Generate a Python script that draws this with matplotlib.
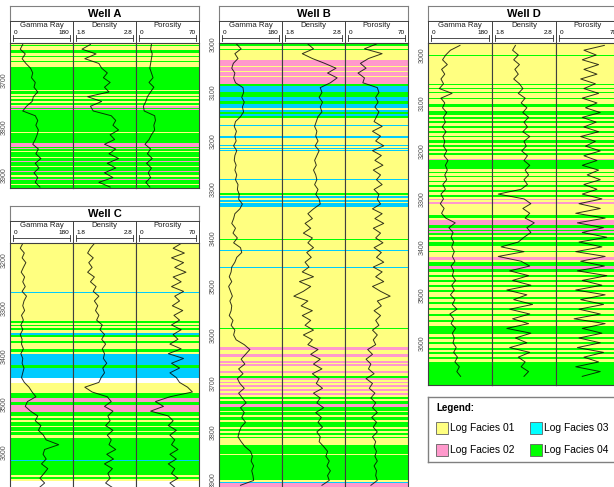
import numpy as np
import matplotlib.pyplot as plt
from matplotlib.patches import Rectangle

plt.rcParams['font.family'] = ['Liberation Sans', 'DejaVu Sans']

W, H = 614, 487

facies_colors = {1: '#FFFF80', 2: '#FF99CC', 3: '#00CCFF', 4: '#00FF00'}
legend_colors = ['#FFFF80', '#FF99CC', '#00FFFF', '#00FF00']
legend_names = ['Log Facies 01', 'Log Facies 02', 'Log Facies 03', 'Log Facies 04']

track_names = ['Gamma Ray', 'Density', 'Porosity']
track_min = [0, 1.8, 0]
track_max = [180, 2.8, 70]
track_min_labels = ['0', '1.8', '0']
track_max_labels = ['180', '2.8', '70']

# log samples every 10 m, starting depth given separately
a_start = 3625
a_gr = [30, 22, 38, 28, 40, 55, 62, 58, 70, 66, 78, 64, 60, 42, 30, 70, 78, 72, 80, 76,
        70, 62, 80, 72, 88, 70, 82, 66, 78, 70, 85]
a_den = [2.05, 1.9, 2.15, 1.95, 2.2, 2.25, 2.35, 2.28, 2.4, 2.3, 2.38, 2.0, 2.25, 2.05, 2.1,
         2.42, 2.5, 2.45, 2.55, 2.4, 2.48, 2.3, 2.5, 2.38, 2.55, 2.35, 2.5, 2.3, 2.45, 2.2, 2.4]
a_por = [15, 14, 16, 15, 14, 13, 15, 17, 12, 18, 14, 10, 8, 5, 6, 19, 20, 18, 19, 15,
         12, 7, 14, 10, 16, 9, 15, 11, 14, 8, 13]
a_facies = [(3622, 1), (3626, 4), (3629, 1), (3636, 4), (3642, 1), (3650, 4), (3652, 1), (3660, 4),
            (3662, 1), (3672, 4), (3720, 1), (3722, 4), (3729, 1), (3733, 4), (3736, 1), (3740, 4),
            (3743, 1), (3748, 4), (3752, 1), (3755, 2), (3758, 4), (3760, 2), (3763, 4), (3809, 1),
            (3812, 4), (3832, 2), (3840, 4), (3843, 2), (3846, 4), (3850, 1), (3852, 4), (3862, 1),
            (3864, 4), (3870, 2), (3873, 4), (3880, 1), (3882, 4), (3892, 2), (3894, 4), (3900, 1),
            (3903, 4), (3908, 2), (3911, 4), (3918, 1), (3921, 4)]

b_start = 3000
b_gr = [45, 60, 40, 50, 35, 30, 40, 36, 42, 66,
        68, 62, 70, 64, 68, 58, 42, 38, 45, 40,
        44, 36, 46, 40, 38, 44, 40, 46, 42, 50,
        48, 54, 52, 64, 56, 40, 36, 30, 42, 34,
        48, 36, 58, 62, 46, 40, 30, 28, 22, 30,
        20, 26, 32, 24, 30, 28, 22, 34, 28, 40,
        36, 44, 70, 88, 74, 60, 72, 52, 66, 48,
        56, 70, 52, 64, 76, 58, 70, 62, 74, 60,
        54, 50, 60, 72, 90, 96, 92, 100, 94, 98,
        100, 58]
b_den = [2.2, 2.3, 2.1, 2.28, 2.5, 2.7, 2.55, 2.72, 2.6, 2.42,
         2.45, 2.4, 2.46, 2.42, 2.45, 2.38, 2.35, 2.32, 2.36, 2.34,
         2.38, 2.33, 2.4, 2.36, 2.32, 2.35, 2.3, 2.34, 2.36, 2.32,
         2.38, 2.34, 2.4, 2.42, 2.3, 2.2, 2.28, 2.15, 2.25, 2.12,
         2.28, 2.2, 2.3, 2.18, 2.26, 2.15, 2.22, 2.1, 2.3, 2.05,
         2.25, 2.12, 1.95, 2.2, 2.08, 2.28, 2.1, 2.25, 2.15, 2.3,
         2.12, 2.28, 2.2, 2.38, 2.25, 2.42, 2.3, 2.45, 2.28, 2.4,
         2.35, 2.46, 2.3, 2.42, 2.36, 2.48, 2.34, 2.44, 2.38, 2.46,
         2.36, 2.42, 2.4, 2.48, 2.55, 2.52, 2.58, 2.54, 2.6, 2.55,
         2.58, 2.45]
b_por = [35, 20, 42, 25, 15, 22, 12, 20, 18, 36,
         38, 34, 37, 33, 38, 35, 32, 42, 30, 40,
         34, 44, 30, 41, 33, 43, 31, 40, 35, 42,
         32, 38, 36, 40, 30, 42, 33, 44, 31, 40,
         34, 43, 32, 41, 35, 44, 31, 42, 34, 44,
         30, 40, 52, 36, 41, 32, 40, 34, 38, 30,
         36, 31, 34, 24, 30, 22, 28, 25, 32, 22,
         30, 26, 33, 28, 34, 30, 36, 29, 35, 31,
         36, 30, 34, 32, 35, 33, 36, 32, 35, 34,
         36, 28]
b_facies = [(2998, 4), (3005, 1), (3010, 4), (3013, 1), (3033, 2), (3045, 1), (3047, 2), (3056, 1),
            (3058, 2), (3066, 1), (3068, 2), (3082, 4), (3087, 3), (3099, 4), (3110, 3), (3117, 4),
            (3124, 3), (3131, 1), (3136, 3), (3140, 4), (3144, 3), (3148, 4), (3152, 1), (3168, 3),
            (3170, 1), (3189, 3), (3193, 1), (3209, 3), (3211, 1), (3214, 3), (3216, 1), (3219, 3),
            (3221, 1), (3279, 3), (3281, 1), (3307, 4), (3311, 1), (3314, 3), (3317, 1), (3322, 3),
            (3325, 1), (3328, 3), (3336, 1), (3402, 4), (3405, 1), (3425, 3), (3427, 1), (3459, 3),
            (3461, 1), (3585, 4), (3587, 1), (3624, 2), (3631, 1), (3640, 2), (3645, 1), (3654, 2),
            (3657, 1), (3660, 2), (3664, 1), (3675, 2), (3679, 1), (3685, 4), (3689, 2), (3693, 1),
            (3697, 2), (3700, 1), (3704, 2), (3707, 1), (3712, 2), (3715, 1), (3720, 2), (3724, 1),
            (3728, 4), (3733, 1), (3737, 4), (3742, 2), (3749, 4), (3756, 1), (3759, 4), (3766, 1),
            (3769, 4), (3776, 1), (3779, 4), (3790, 1), (3794, 4), (3798, 1), (3802, 4), (3806, 1),
            (3810, 4), (3813, 1), (3826, 4), (3846, 1), (3848, 4), (3900, 1), (3903, 3), (3906, 2)]

c_start = 3165
c_gr = [30, 22, 35, 28, 40, 32, 25, 36, 30, 38,
        28, 42, 34, 30, 36, 26, 32, 24, 30, 22,
        28, 26, 32, 24, 30, 28, 34, 30, 26, 35,
        50, 60, 72, 45, 38, 55, 78, 70, 88, 80,
        96, 105, 145, 100, 95, 105, 90, 110, 98, 85,
        100, 82, 90]
c_den = [2.12, 2.05, 2.0, 2.1, 2.02, 2.08, 2.0, 2.12, 2.05, 2.15,
         2.1, 2.2, 2.12, 2.18, 2.14, 2.2, 2.16, 2.26, 2.22, 2.3,
         2.25, 2.32, 2.26, 2.3, 2.28, 2.34, 2.27, 2.3, 2.24, 2.2,
         1.95, 2.08, 2.35, 2.42, 2.3, 2.45, 2.36, 2.4, 2.32, 2.45,
         2.35, 2.42, 2.38, 2.5, 2.34, 2.46, 2.3, 2.44, 2.36, 2.4,
         2.32, 2.45, 2.38]
c_por = [52, 42, 56, 40, 55, 44, 58, 42, 52, 40,
         55, 44, 50, 41, 54, 43, 50, 40, 52, 42,
         48, 38, 52, 36, 55, 40, 50, 38, 46, 50,
         60, 66, 38, 20, 30, 14, 36, 42, 36, 46,
         38, 44, 40, 48, 38, 46, 36, 44, 40, 48,
         38, 45, 42]
c_facies = [(3164, 1), (3266, 3), (3268, 1), (3326, 4), (3332, 1), (3335, 4), (3338, 1), (3341, 4),
            (3345, 1), (3351, 3), (3356, 4), (3361, 1), (3368, 4), (3372, 1), (3386, 4), (3391, 1),
            (3396, 3), (3418, 4), (3425, 3), (3446, 0), (3456, 1), (3477, 4), (3488, 2), (3495, 4),
            (3502, 2), (3516, 4), (3526, 1), (3529, 4), (3533, 1), (3537, 4), (3545, 1), (3548, 4),
            (3556, 1), (3559, 4), (3565, 1), (3572, 4), (3617, 3), (3619, 4), (3649, 1), (3653, 4),
            (3656, 1), (3660, 0)]

d_start = 2980
d_gr = [90, 60, 45, 35, 50, 32, 42, 30, 38, 25,
        65, 30, 42, 35, 48, 38, 44, 34, 46, 36,
        42, 38, 48, 40, 52, 44, 50, 42, 48, 36,
        44, 30, 38, 28, 40, 32, 45, 75, 55, 68,
        62, 70, 64, 72, 66, 74, 62, 70, 66, 76,
        64, 72, 60, 74, 66, 80, 58, 70, 62, 76,
        66, 72, 68, 78, 70, 82, 74, 88, 80, 92]
d_den = [2.15, 2.1, 2.2, 2.12, 2.22, 2.14, 2.2, 2.12, 2.22, 2.28,
         2.2, 2.32, 2.25, 2.35, 2.28, 2.38, 2.3, 2.36, 2.28, 2.4,
         2.3, 2.34, 2.26, 2.36, 2.3, 2.4, 2.32, 2.38, 2.3, 2.36,
         2.25, 1.85, 2.3, 2.42, 2.28, 2.4, 2.32, 2.48, 2.35, 2.42,
         2.3, 2.2, 1.9, 2.3, 1.85, 2.25, 2.4, 2.05, 2.38, 2.1,
         2.42, 2.0, 2.35, 2.12, 2.45, 2.05, 2.4, 2.1, 2.38, 2.0,
         2.42, 2.15, 2.35, 2.05, 2.4, 2.2, 2.32, 2.25, 2.38, 2.3]
d_por = [55, 30, 45, 28, 48, 30, 46, 26, 44, 30,
         48, 28, 46, 32, 50, 28, 45, 30, 48, 26,
         44, 32, 50, 30, 46, 28, 48, 34, 50, 30,
         46, 28, 52, 24, 50, 20, 56, 22, 54, 28,
         58, 24, 52, 20, 56, 26, 55, 22, 58, 28,
         52, 20, 56, 26, 54, 24, 50, 18, 56, 28,
         52, 24, 50, 22, 54, 30, 48, 20, 50, 28]
d_facies = [(2975, 1), (3001, 4), (3003, 1), (3061, 4), (3063, 1), (3068, 4), (3070, 1), (3078, 4),
            (3080, 1), (3090, 4), (3092, 1), (3102, 4), (3109, 1), (3116, 4), (3126, 1), (3130, 4),
            (3134, 1), (3138, 4), (3142, 1), (3148, 4), (3152, 1), (3158, 4), (3162, 1), (3168, 4),
            (3172, 1), (3178, 4), (3184, 1), (3188, 4), (3192, 1), (3196, 4), (3200, 1), (3204, 4),
            (3208, 1), (3216, 2), (3219, 4), (3238, 1), (3243, 4), (3246, 1), (3252, 4), (3255, 1),
            (3262, 4), (3265, 1), (3272, 4), (3275, 1), (3282, 4), (3285, 1), (3292, 4), (3296, 1),
            (3300, 2), (3303, 1), (3307, 2), (3310, 1), (3334, 4), (3340, 1), (3344, 2), (3354, 4),
            (3361, 2), (3364, 4), (3367, 2), (3371, 4), (3376, 1), (3380, 4), (3386, 1), (3390, 4),
            (3398, 1), (3408, 4), (3411, 1), (3422, 2), (3427, 1), (3432, 4), (3439, 2), (3446, 4),
            (3452, 1), (3458, 4), (3462, 1), (3470, 4), (3474, 1), (3480, 4), (3484, 1), (3490, 4),
            (3494, 1), (3504, 4), (3508, 1), (3516, 4), (3520, 1), (3528, 4), (3532, 1), (3540, 4),
            (3544, 1), (3552, 4), (3556, 1), (3565, 4), (3582, 1), (3588, 4), (3592, 1), (3598, 4),
            (3602, 1), (3610, 4), (3614, 1), (3620, 4), (3624, 1), (3630, 4), (3634, 1), (3640, 4)]


fig = plt.figure(figsize=(W / 100, H / 100), dpi=100)


def px(x0, y0, x1, y1):
    return [x0 / W, 1 - y1 / H, (x1 - x0) / W, (y1 - y0) / H]


def draw_well(name, x0, x1, y_title, y_data, y_bot, d_top, d_bot, start, curves, facies, ticks):
    border = '#808080'
    tax = fig.add_axes(px(x0, y_title, x1, y_title + 15))
    tax.set_xticks([])
    tax.set_yticks([])
    for s in tax.spines.values():
        s.set_color(border)
        s.set_linewidth(0.8)
    tax.text(0.5, 0.45, name, ha='center', va='center', fontsize=8, fontweight='bold')

    tw = (x1 - x0) / 3
    for k in range(3):
        lo, hi = track_min[k], track_max[k]
        pad = 0.06 * (hi - lo)
        xa = x0 + k * tw

        # header with name and scale
        hax = fig.add_axes(px(xa, y_title + 15, xa + tw, y_data))
        hax.set_xlim(lo - pad, hi + pad)
        hax.set_ylim(1, 0)
        hax.set_xticks([])
        hax.set_yticks([])
        for s in hax.spines.values():
            s.set_color('#404040')
            s.set_linewidth(0.7)
        hax.text((lo + hi) / 2, 0.2, track_names[k], ha='center', va='center', fontsize=5.6,
                 color='#202020')
        hax.text(lo, 0.5, track_min_labels[k], ha='left', va='center', fontsize=4.6)
        hax.text(hi, 0.5, track_max_labels[k], ha='right', va='center', fontsize=4.6)
        hax.plot([lo, hi], [0.76, 0.76], color='#303030', lw=0.6)
        hax.plot([lo, lo], [0.62, 0.9], color='#303030', lw=0.6)
        hax.plot([hi, hi], [0.62, 0.9], color='#303030', lw=0.6)

        # data track
        ax = fig.add_axes(px(xa, y_data, xa + tw, y_bot))
        ax.set_xlim(lo - pad, hi + pad)
        ax.set_ylim(d_bot, d_top)
        for i, (top, code) in enumerate(facies):
            base = facies[i + 1][0] if i + 1 < len(facies) else d_bot
            if code:
                ax.axhspan(top, base, color=facies_colors[code], lw=0)
        vals = curves[k]
        depth = start + 10 * np.arange(len(vals))
        ax.plot(vals, depth, color='black', lw=0.7, alpha=0.8)
        ax.set_xticks([])
        for s in ax.spines.values():
            s.set_color('#404040')
            s.set_linewidth(0.8)
        if k == 0:
            ax.set_yticks(ticks)
            ax.set_yticklabels([str(t) for t in ticks], rotation=90, va='center',
                               fontsize=5, color='#505050')
            ax.tick_params(axis='y', length=0, pad=1.5)
        else:
            ax.set_yticks([])


draw_well('Well A', 10, 199, 6, 43, 188, 3622, 3927, a_start, [a_gr, a_den, a_por], a_facies,
          [3700, 3800, 3900])
draw_well('Well C', 10, 199, 206, 243, 495, 3164, 3690, c_start, [c_gr, c_den, c_por], c_facies,
          [3200, 3300, 3400, 3500, 3600])
draw_well('Well B', 219, 408, 6, 43, 495, 2998, 3930, b_start, [b_gr, b_den, b_por], b_facies,
          [3000, 3100, 3200, 3300, 3400, 3500, 3600, 3700, 3800, 3900])
draw_well('Well D', 428, 620, 6, 43, 385, 2975, 3688, d_start, [d_gr, d_den, d_por], d_facies,
          [3000, 3100, 3200, 3300, 3400, 3500, 3600])

# legend box
lax = fig.add_axes(px(428, 397, 620, 462))
lax.set_xlim(428, 620)
lax.set_ylim(462, 397)
lax.set_xticks([])
lax.set_yticks([])
for s in lax.spines.values():
    s.set_color('#808080')
    s.set_linewidth(1.0)
lax.text(436, 408, 'Legend:', fontsize=7, fontweight='bold', va='center', ha='left')
for i, (c, lbl) in enumerate(zip(legend_colors, legend_names)):
    col, row = i // 2, i % 2
    sx = 436 + col * 94
    sy = 428 + row * 22
    lax.add_patch(Rectangle((sx, sy - 6), 12, 12, facecolor=c, edgecolor='#606060', lw=0.6))
    lax.text(sx + 14, sy, lbl, fontsize=7.4, va='center', ha='left')

fig.savefig('out.png', dpi=100)
